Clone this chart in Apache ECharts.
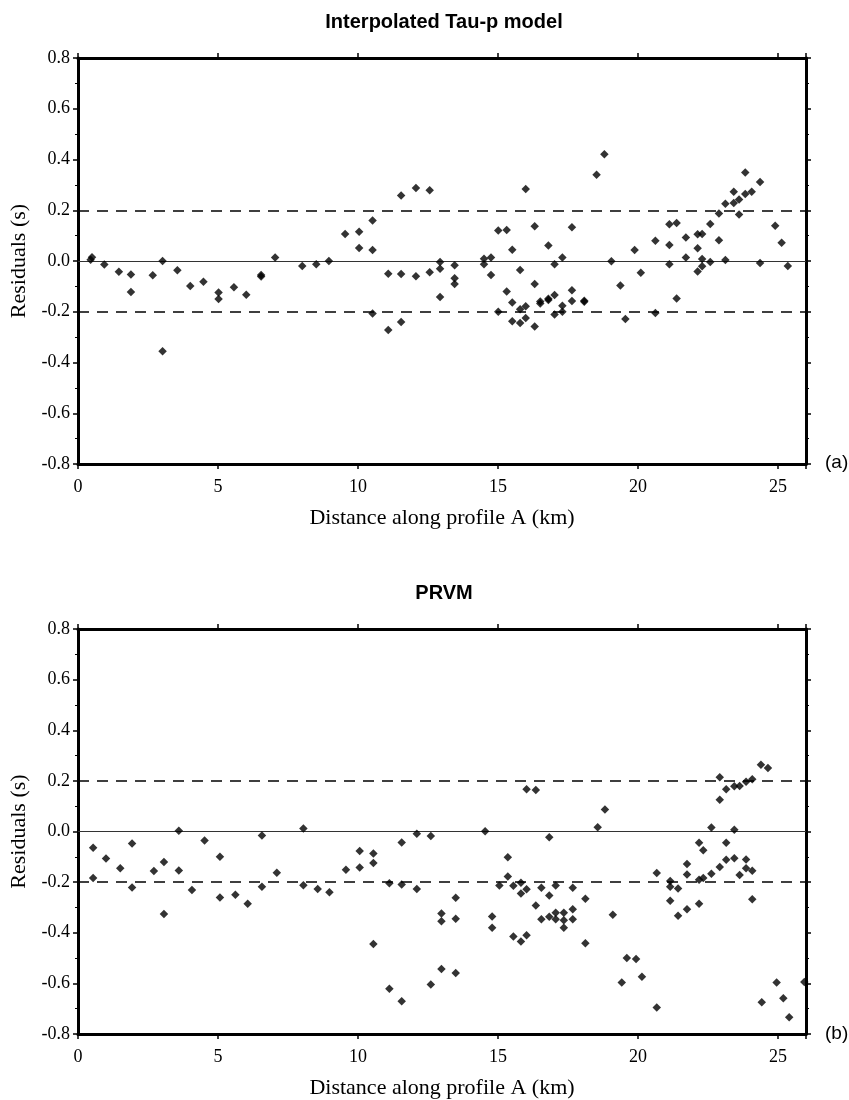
<!DOCTYPE html>
<html>
<head>
<meta charset="utf-8">
<title>Residuals</title>
<script src="https://cdn.jsdelivr.net/npm/echarts@6/dist/echarts.min.js"></script>
<style>
  html, body { margin: 0; padding: 0; background: #fff; }
  #chart { width: 849px; height: 1100px; }
</style>
</head>
<body>
<div id="chart"></div>
<script>
// panel (a): Interpolated Tau-p model
const tauDist = [0.45, 0.5, 0.94, 1.46, 1.89, 1.89, 2.67, 3.02, 3.02, 3.55, 4.01, 4.48, 5.02, 5.02, 5.57, 6.01, 6.54, 6.54, 7.04, 8.01, 8.51, 8.96,
  9.54, 10.04, 10.04, 10.52, 10.52, 10.52, 11.08, 11.08, 11.54, 11.54, 11.54, 12.07, 12.07, 12.56, 12.56, 12.93, 12.93, 12.93,
  13.45, 13.45, 13.45, 14.5, 14.5, 14.75, 14.75, 15.01, 15.01, 15.31, 15.31, 15.51, 15.51, 15.51, 15.79, 15.79, 15.79,
  15.99, 15.99, 15.99, 16.31, 16.31, 16.31, 16.51, 16.51, 16.8, 16.8, 16.8, 17.02, 17.02, 17.02, 17.3, 17.3, 17.3,
  17.64, 17.64, 17.64, 18.08, 18.08, 18.52, 18.8, 19.05, 19.37, 19.55, 19.88, 20.1, 20.62, 20.62, 21.12, 21.12, 21.12,
  21.38, 21.38, 21.71, 21.71, 22.13, 22.13, 22.13, 22.29, 22.29, 22.29, 22.58, 22.58, 22.89, 22.89, 23.12, 23.12,
  23.42, 23.42, 23.61, 23.61, 23.83, 23.83, 24.06, 24.36, 24.36, 24.9, 25.13, 25.35];
const tauResid = [0.005, 0.015, -0.014, -0.042, -0.053, -0.122, -0.056, 0.0, -0.356, -0.036, -0.099, -0.082, -0.124, -0.15, -0.103, -0.133, -0.055, -0.061, 0.014, -0.02, -0.013, 0.0,
  0.106, 0.115, 0.051, 0.16, 0.043, -0.207, -0.05, -0.272, 0.258, -0.051, -0.24, 0.288, -0.06, 0.279, -0.044, -0.004, -0.031, -0.142,
  -0.017, -0.068, -0.091, 0.009, -0.013, 0.014, -0.055, 0.12, -0.2, 0.122, -0.12, 0.044, -0.164, -0.237, -0.035, -0.19, -0.244,
  0.284, -0.178, -0.225, 0.137, -0.091, -0.258, -0.16, -0.167, 0.061, -0.149, -0.154, -0.013, -0.134, -0.211, 0.014, -0.176, -0.2,
  0.133, -0.115, -0.158, -0.161, -0.157, 0.34, 0.421, -0.001, -0.097, -0.229, 0.043, -0.046, 0.08, -0.205, 0.145, 0.063, -0.013,
  0.15, -0.148, 0.093, 0.014, 0.105, 0.05, -0.041, 0.106, 0.008, -0.021, 0.146, -0.004, 0.187, 0.082, 0.226, 0.004,
  0.273, 0.229, 0.242, 0.183, 0.349, 0.264, 0.273, 0.311, -0.008, 0.139, 0.072, -0.02];

// panel (b): PRVM
const prvmDist = [0.54, 0.54, 1.0, 1.51, 1.93, 1.93, 2.71, 3.07, 3.07, 3.6, 3.6, 4.07, 4.52, 5.07, 5.07, 5.62, 6.06, 6.57, 6.57, 7.1, 8.05, 8.05, 8.56, 8.98,
  9.57, 10.06, 10.06, 10.55, 10.55, 10.55, 11.12, 11.12, 11.56, 11.56, 11.56, 12.1, 12.1, 12.6, 12.6, 12.98, 12.98, 12.98,
  13.49, 13.49, 13.49, 14.54, 14.79, 14.79, 15.05, 15.35, 15.35, 15.55, 15.55, 15.82, 15.82, 15.82, 16.02, 16.02, 16.02,
  16.35, 16.35, 16.55, 16.55, 16.83, 16.83, 16.83, 17.06, 17.06, 17.06, 17.35, 17.35, 17.35, 17.67, 17.67, 17.67,
  18.12, 18.12, 18.56, 18.82, 19.1, 19.42, 19.6, 19.93, 20.14, 20.67, 20.67, 21.15, 21.15, 21.15, 21.43, 21.43,
  21.75, 21.75, 21.75, 22.18, 22.33, 22.18, 22.33, 22.18, 22.62, 22.62, 22.92, 22.92, 22.92, 23.15, 23.15, 23.15,
  23.44, 23.44, 23.44, 23.63, 23.63, 23.86, 23.86, 23.86, 24.08, 24.08, 24.08, 24.39, 24.42, 24.64, 24.95, 25.19, 25.4, 25.94];
const prvmResid = [-0.064, -0.184, -0.107, -0.145, -0.047, -0.221, -0.156, -0.12, -0.326, 0.003, -0.154, -0.231, -0.036, -0.1, -0.261, -0.25, -0.285, -0.016, -0.218, -0.163, 0.012, -0.212, -0.227, -0.24,
  -0.151, -0.077, -0.142, -0.087, -0.124, -0.444, -0.204, -0.621, -0.043, -0.209, -0.671, -0.009, -0.227, -0.018, -0.604, -0.324, -0.355, -0.543,
  -0.262, -0.345, -0.559, 0.001, -0.336, -0.38, -0.213, -0.102, -0.178, -0.214, -0.415, -0.202, -0.245, -0.435, 0.167, -0.228, -0.41,
  0.164, -0.292, -0.222, -0.347, -0.023, -0.253, -0.337, -0.213, -0.321, -0.347, -0.321, -0.351, -0.38, -0.222, -0.307, -0.347,
  -0.266, -0.441, 0.017, 0.087, -0.329, -0.597, -0.5, -0.504, -0.574, -0.164, -0.695, -0.196, -0.218, -0.274, -0.225, -0.333,
  -0.128, -0.17, -0.307, -0.044, -0.074, -0.191, -0.184, -0.285, 0.016, -0.167, 0.214, 0.125, -0.14, 0.167, -0.044, -0.112,
  0.179, 0.007, -0.106, 0.18, -0.172, 0.197, -0.111, -0.145, 0.206, -0.155, -0.268, 0.264, -0.675, 0.251, -0.597, -0.659, -0.734, -0.595];

const titles = ['Interpolated Tau-p model', 'PRVM'];
const panelTags = ['(a)', '(b)'];
const refLines = [0.2, -0.2];

const chart = echarts.init(document.getElementById('chart'));
const serif = '"Liberation Serif", "DejaVu Serif", serif';
const sans = '"Liberation Sans", Arial, sans-serif';
const gridTops = [58, 629];
const frame = {onZero: false, lineStyle: {color: '#000', width: 3}};

function zip(xs, ys) {
  return xs.map((x, i) => [x, ys[i]]);
}

const grids = [], xAxes = [], yAxes = [], series = [], graphics = [];
gridTops.forEach((top, i) => {
  grids.push({left: 78, top: top, width: 728, height: 406});
  // bottom + top x axes
  xAxes.push({
    gridIndex: i, type: 'value', min: 0, max: 26, interval: 5, position: 'bottom',
    name: 'Distance along profile A (km)', nameLocation: 'middle', nameGap: 43,
    nameTextStyle: {fontFamily: serif, fontSize: 22, color: '#000'},
    axisLine: frame, splitLine: {show: false},
    axisTick: {length: 5, lineStyle: {color: '#000', width: 1.5}},
    axisLabel: {fontFamily: serif, fontSize: 18, color: '#000', margin: 14,
      formatter: v => (v % 5 === 0 ? String(v) : '')}
  });
  xAxes.push({
    gridIndex: i, type: 'value', min: 0, max: 26, interval: 5, position: 'top',
    axisLine: frame, splitLine: {show: false},
    axisTick: {length: 5, lineStyle: {color: '#000', width: 1.5}},
    axisLabel: {show: false}
  });
  // left + right y axes
  yAxes.push({
    gridIndex: i, type: 'value', min: -0.8, max: 0.8, interval: 0.2, position: 'left',
    name: 'Residuals (s)', nameLocation: 'middle', nameGap: 42,
    nameTextStyle: {fontFamily: serif, fontSize: 22, color: '#000'},
    axisLine: frame, splitLine: {show: false},
    axisTick: {length: 5, lineStyle: {color: '#000', width: 1.5}},
    minorTick: {show: true, splitNumber: 2, length: 3, lineStyle: {color: '#000', width: 1}},
    axisLabel: {fontFamily: serif, fontSize: 18, color: '#000', margin: 8,
      formatter: v => v.toFixed(1)}
  });
  yAxes.push({
    gridIndex: i, type: 'value', min: -0.8, max: 0.8, interval: 0.2, position: 'right',
    axisLine: frame, splitLine: {show: false},
    axisTick: {length: 5, lineStyle: {color: '#000', width: 1.5}},
    minorTick: {show: true, splitNumber: 2, length: 3, lineStyle: {color: '#000', width: 1}},
    axisLabel: {show: false}
  });

  const pts = i === 0 ? zip(tauDist, tauResid) : zip(prvmDist, prvmResid);
  series.push({
    type: 'scatter', xAxisIndex: i * 2, yAxisIndex: i * 2, data: pts,
    symbol: 'diamond', symbolSize: 8.5, itemStyle: {color: '#000'},
    z: 5,
    markLine: {
      silent: true, symbol: 'none', label: {show: false},
      data: [
        {yAxis: 0, lineStyle: {color: '#333', width: 1.2, type: 'solid'}},
        ...refLines.map(v => ({yAxis: v, lineStyle: {color: '#000', width: 1.6, type: [11, 8]}}))
      ]
    }
  });

  graphics.push({
    type: 'text', x: 444, y: top - 46,
    style: {text: titles[i], fontFamily: sans, fontWeight: 'bold', fontSize: 20, fill: '#000', textAlign: 'center'}
  });
  graphics.push({
    type: 'text', x: 825, y: top + 395,
    style: {text: panelTags[i], fontFamily: sans, fontSize: 19, fill: '#000'}
  });
});

chart.setOption({
  backgroundColor: '#fff',
  animation: false,
  grid: grids,
  xAxis: xAxes,
  yAxis: yAxes,
  series: series,
  graphic: graphics
});
window.addEventListener('resize', function () {
  chart.resize();
});
</script>
</body>
</html>
